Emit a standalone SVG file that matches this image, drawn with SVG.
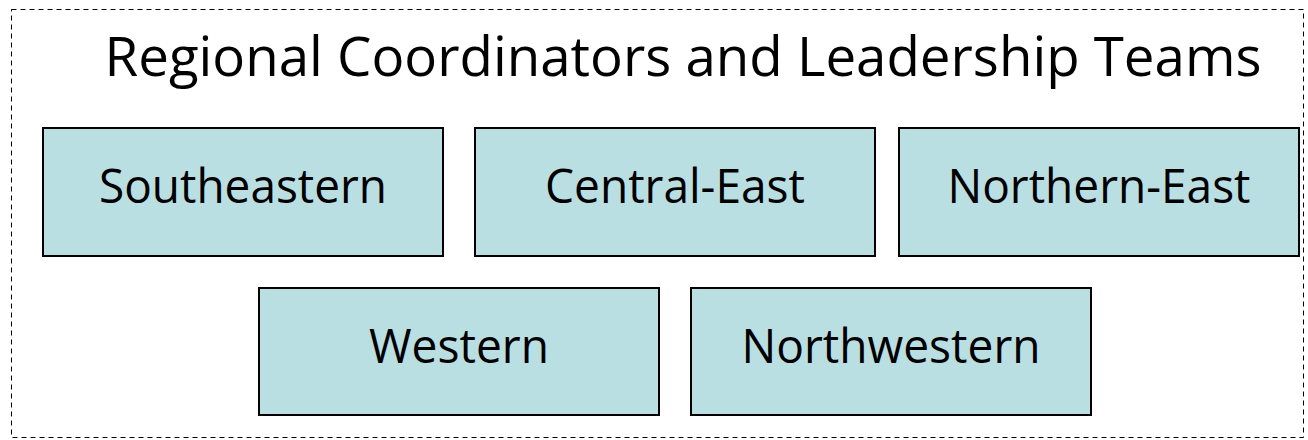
<svg xmlns="http://www.w3.org/2000/svg" width="1308" height="440" viewBox="0 0 1308 440">
<style>
.frame{fill:none;stroke:#000;stroke-width:1;stroke-dasharray:5,4}
.box{fill:#BADFE3;stroke:#000;stroke-width:2}
.t{font-family:"Open Sans","Liberation Sans",sans-serif;fill:#000;text-anchor:middle}
.title{font-size:55px}
.lbl{font-size:47px}
</style>
<rect x="0" y="0" width="1308" height="440" fill="#fff"/>
<rect class="frame" x="11.5" y="9.5" width="1292" height="428"/>
<text class="t title" x="683" y="76" textLength="1157" lengthAdjust="spacingAndGlyphs">Regional Coordinators and Leadership Teams</text>
<g id="node-southeastern"><rect class="box" x="43" y="128" width="400" height="128"/><text class="t lbl" x="243" y="203" textLength="288" lengthAdjust="spacingAndGlyphs">Southeastern</text></g>
<g id="node-central-east"><rect class="box" x="475" y="128" width="400" height="128"/><text class="t lbl" x="675" y="203" textLength="260" lengthAdjust="spacingAndGlyphs">Central-East</text></g>
<g id="node-northern-east"><rect class="box" x="899" y="128" width="400" height="128"/><text class="t lbl" x="1099" y="203" textLength="303" lengthAdjust="spacingAndGlyphs">Northern-East</text></g>
<g id="node-western"><rect class="box" x="259" y="288" width="400" height="127"/><text class="t lbl" x="459" y="363" textLength="180" lengthAdjust="spacingAndGlyphs">Western</text></g>
<g id="node-northwestern"><rect class="box" x="691" y="288" width="400" height="127"/><text class="t lbl" x="891" y="363" textLength="299" lengthAdjust="spacingAndGlyphs">Northwestern</text></g>
<g id="connectors"></g>
</svg>
